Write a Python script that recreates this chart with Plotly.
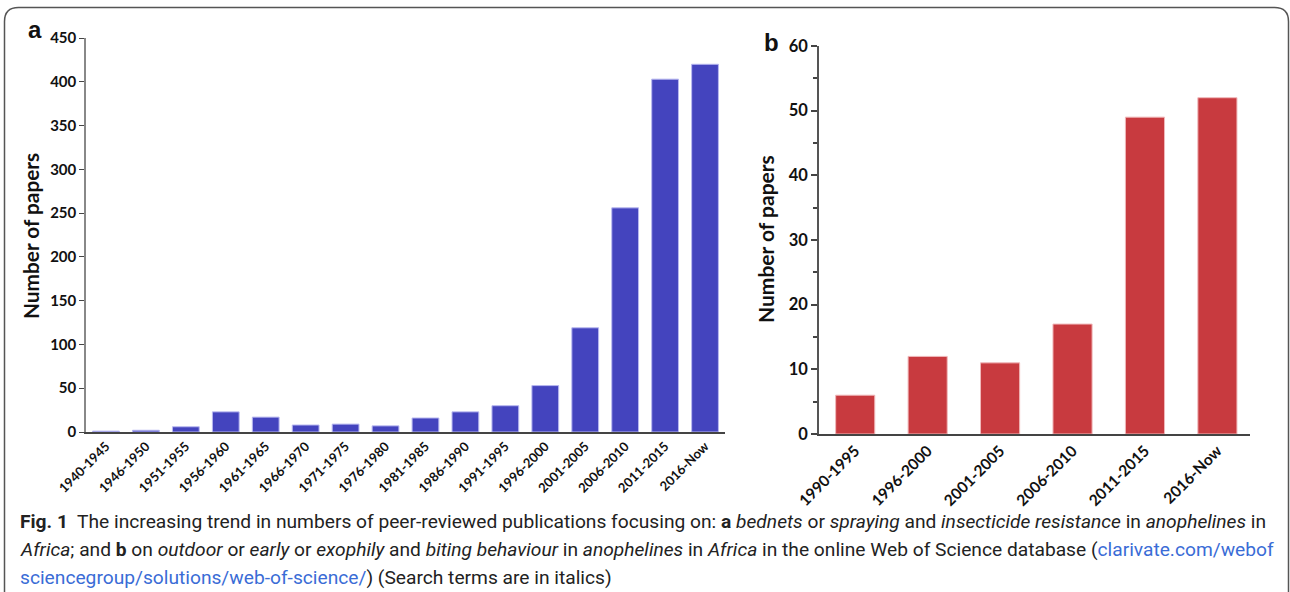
import plotly.graph_objects as go

W, H = 1290, 592

cats_a = ["1940-1945", "1946-1950", "1951-1955", "1956-1960", "1961-1965", "1966-1970",
          "1971-1975", "1976-1980", "1981-1985", "1986-1990", "1991-1995", "1996-2000",
          "2001-2005", "2006-2010", "2011-2015", "2016-Now"]
vals_a = [1, 2, 6, 23, 17, 8, 9, 7, 16, 23, 30, 53, 119, 256, 403, 420]

cats_b = ["1990-1995", "1996-2000", "2001-2005", "2006-2010", "2011-2015", "2016-Now"]
vals_b = [6, 12, 11, 17, 49, 52]

ytick_a = [0, 50, 100, 150, 200, 250, 300, 350, 400, 450]
ytick_b = [0, 10, 20, 30, 40, 50, 60]

BLUE = "#4444BE"
RED = "#C83A3F"
AXFONT = "Lato, Open Sans, sans-serif"
CAPFONT = "Roboto, sans-serif"


def px(x):
    return x / W


def py(y):
    return 1 - y / H


fig = go.Figure()
fig.add_trace(go.Bar(x=cats_a, y=vals_a, width=0.67,
                     marker=dict(color=BLUE, line=dict(color="#B8B8F0", width=1)),
                     xaxis="x", yaxis="y", showlegend=False))
fig.add_trace(go.Bar(x=cats_b, y=vals_b, width=0.54,
                     marker=dict(color=RED, line=dict(color="#F0B8BA", width=1)),
                     xaxis="x2", yaxis="y2", showlegend=False))

fig.update_layout(
    template="none",
    width=W, height=H,
    margin=dict(l=0, r=0, t=0, b=0, pad=0),
    paper_bgcolor="white", plot_bgcolor="white",
    xaxis=dict(domain=[px(86), px(725)], anchor="y", range=[-0.5, 15.5], automargin=False,
               showline=True, linecolor="#444", linewidth=1.5, ticks="", tickangle=-45,
               tickfont=dict(family=AXFONT, size=13, color="#111", weight="bold"),
               showgrid=False, zeroline=False),
    yaxis=dict(domain=[py(432), py(38)], anchor="x", range=[0, 450], automargin=False,
               tickvals=ytick_a, ticktext=[str(v) for v in ytick_a],
               showline=True, linecolor="#888", linewidth=1.5, ticks="outside", ticklen=5,
               tickcolor="#444", tickwidth=1,
               tickfont=dict(family=AXFONT, size=15, color="#111", weight="bold"),
               showgrid=False, zeroline=False),
    xaxis2=dict(domain=[px(819), px(1250)], anchor="y2", range=[-0.5, 5.45], automargin=False,
                showline=True, linecolor="#444", linewidth=1.5, ticks="", tickangle=-45,
                tickfont=dict(family=AXFONT, size=15.5, color="#111", weight="bold"),
                showgrid=False, zeroline=False),
    yaxis2=dict(domain=[py(434), py(46)], anchor="x2", range=[0, 60], automargin=False,
                tickvals=ytick_b, ticktext=[str(v) for v in ytick_b],
                showline=True, linecolor="#555", linewidth=1.5, ticks="outside", ticklen=6,
                tickcolor="#444", tickwidth=1.5,
                minor=dict(dtick=5, ticks="outside", ticklen=4, tickcolor="#444", tickwidth=1.5),
                tickfont=dict(family=AXFONT, size=16.5, color="#111", weight="bold"),
                showgrid=False, zeroline=False),
)

anns = []
anns.append(dict(x=px(35), y=py(30), text="<b>a</b>", font=dict(family="Liberation Sans, Arial", size=24, color="#111")))
anns.append(dict(x=px(771), y=py(43), text="<b>b</b>", font=dict(family="Liberation Sans, Arial", size=24, color="#111")))
anns.append(dict(x=px(30), y=py(236), text="<b>Number of papers</b>", textangle=-90,
                 font=dict(family=AXFONT, size=20.8, color="#111")))
anns.append(dict(x=px(765), y=py(239), text="<b>Number of papers</b>", textangle=-90,
                 font=dict(family=AXFONT, size=21, color="#111")))

LINK = "#3A6CD6"
cap1 = ("<b>Fig. 1</b>  The increasing trend in numbers of peer-reviewed publications focusing on: "
        "<b>a</b> <i>bednets</i> or <i>spraying</i> and <i>insecticide resistance</i> in <i>anophelines</i> in")
cap2 = ("<i>Africa</i>; and <b>b</b> on <i>outdoor</i> or <i>early</i> or <i>exophily</i> and "
        "<i>biting behaviour</i> in <i>anophelines</i> in <i>Africa</i> in the online Web of Science database ("
        f"<span style='color:{LINK}'>clarivate.com/webof</span>")
cap3 = (f"<span style='color:{LINK}'>sciencegroup/solutions/web-of-science/</span>) (Search terms are in italics)")
for yy, t in [(521, cap1), (549, cap2), (577, cap3)]:
    anns.append(dict(x=px(18), y=py(yy), text=t, xanchor="left", yanchor="middle",
                     font=dict(family=CAPFONT, size=19.2, color="#222")))

for a in anns:
    a.setdefault("xanchor", "center")
    a.setdefault("yanchor", "middle")
    a.update(xref="paper", yref="paper", showarrow=False)
fig.update_layout(annotations=anns)

# rounded frame
L, T, R, B, r = 4.5, 7.5, 1288.5, 620, 14
path = (f"M {px(L)},{py(B)} L {px(L)},{py(T + r)} Q {px(L)},{py(T)} {px(L + r)},{py(T)} "
        f"L {px(R - r)},{py(T)} Q {px(R)},{py(T)} {px(R)},{py(T + r)} L {px(R)},{py(B)}")
fig.add_shape(type="path", path=path, xref="paper", yref="paper",
              line=dict(color="#555", width=1.5))

fig.write_html("out.html", config={"displayModeBar": False},
               post_script="document.body.style.margin='0';document.body.style.overflow='hidden';")
